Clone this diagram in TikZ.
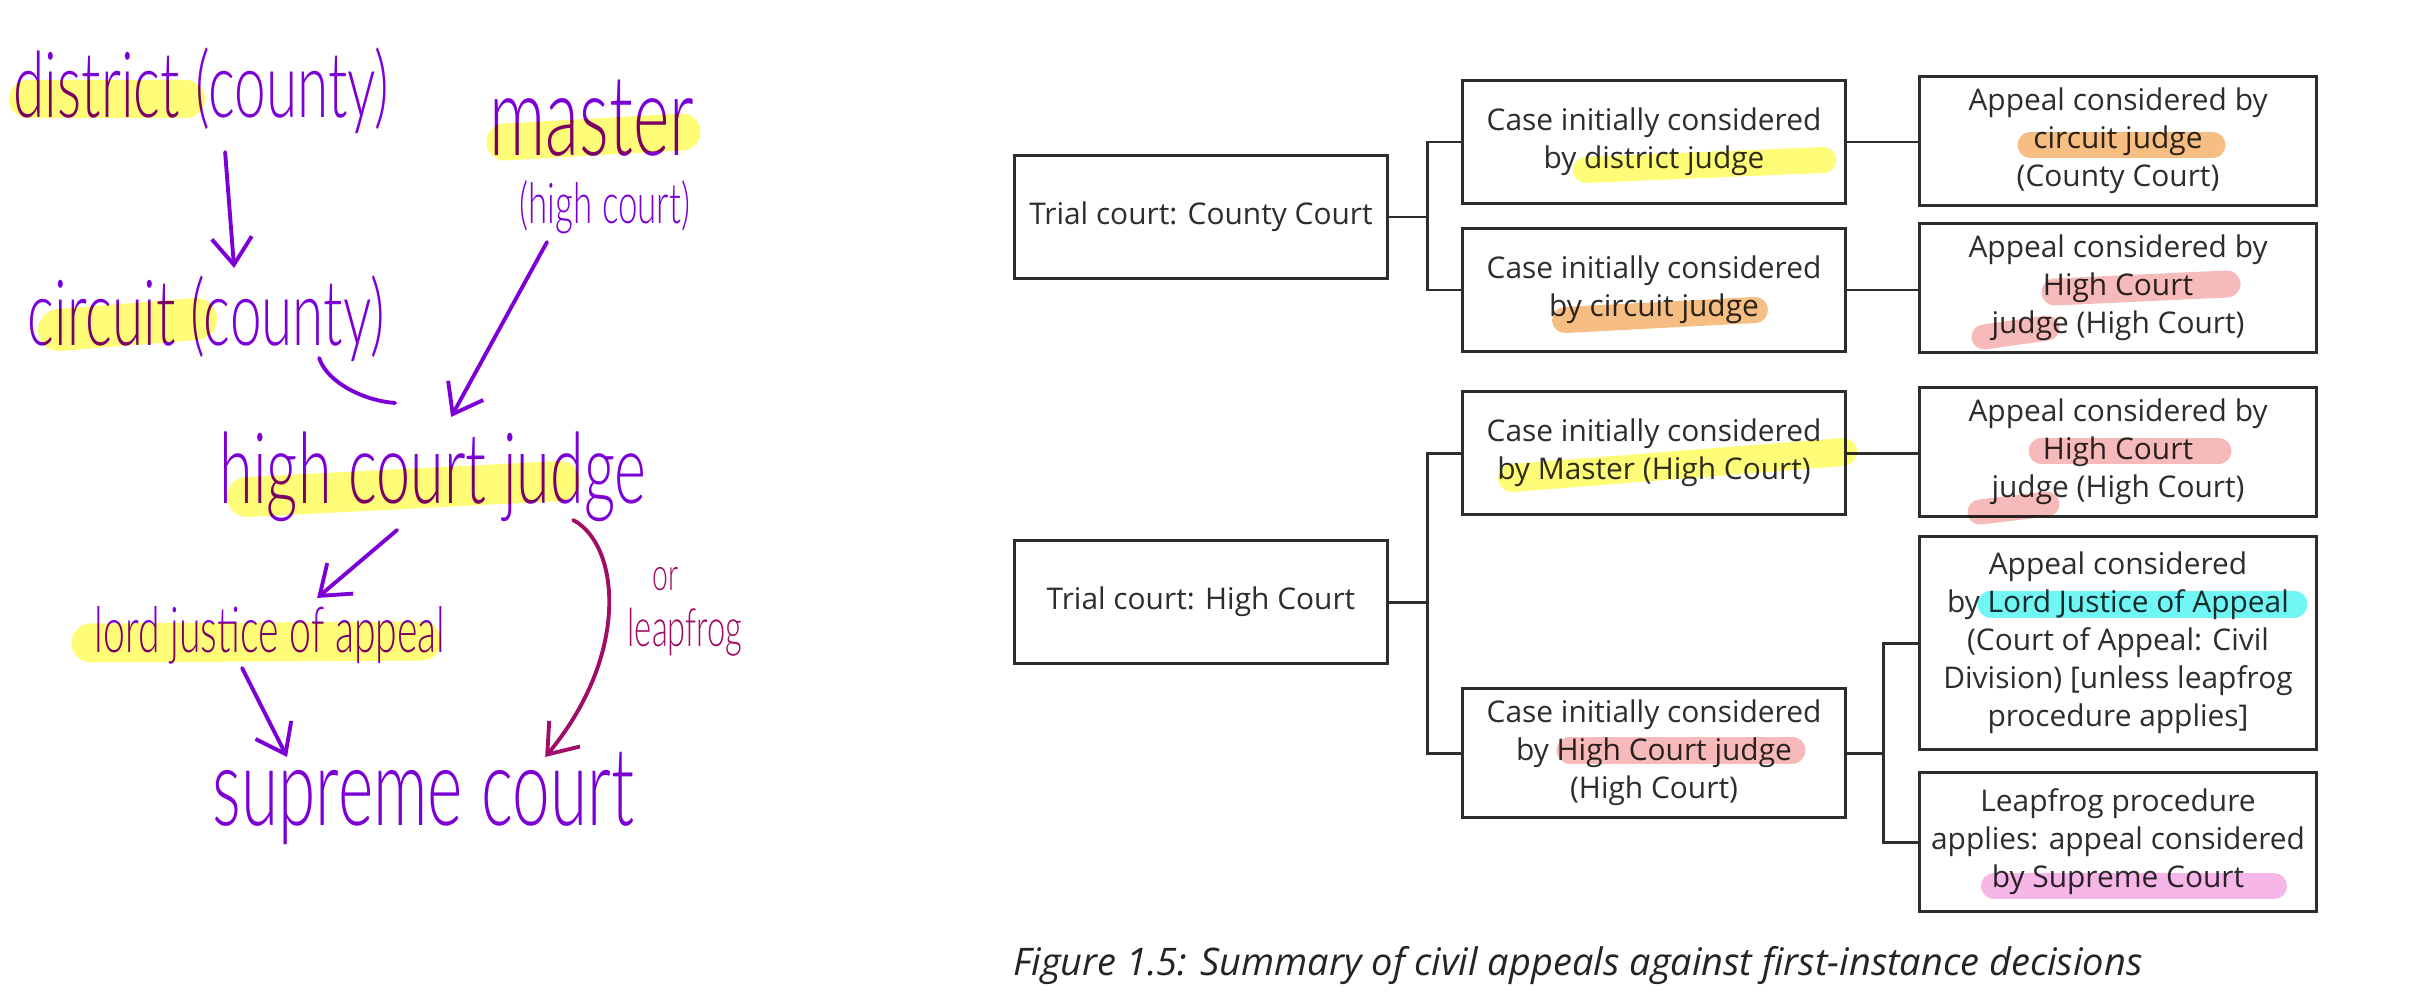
\documentclass[tikz,border=0pt]{standalone}
\usepackage{fontspec}
\setmainfont{Open Sans}
\IfFontExistsTF{Lato Light}
  {\newfontfamily\handfont[FakeStretch=0.62]{Lato Light}}
  {\newfontfamily\handfont[FakeStretch=0.62]{Lato}}
\usepackage{tikz}
\usetikzlibrary{arrows.meta}

\definecolor{inkpurple}{RGB}{124,0,214}
\definecolor{inkberry}{RGB}{160,12,102}
\definecolor{hlyellow}{RGB}{255,253,120}
\definecolor{hlorange}{RGB}{246,190,130}
\definecolor{hlpink}{RGB}{246,186,186}
\definecolor{hlcyan}{RGB}{112,246,244}
\definecolor{hlmagenta}{RGB}{246,182,232}
\definecolor{printgray}{RGB}{45,45,45}

\tikzset{
  hand/.style={inner sep=0pt, anchor=base west, text=inkpurple,
    font=\handfont\fontsize{#1}{#1}\selectfont},
  pen/.style={draw=inkpurple, line width=1.1pt, line cap=round, line join=round},
  barb/.style={-{Straight Barb[length=2.7mm, width=4mm]}},
  hl/.style={line width=#1, line cap=round, blend mode=multiply},
  trial/.style={draw=printgray, line width=0.85pt, minimum width=3.72cm,
    minimum height=1.22cm, align=center, text=printgray,
    font=\fontsize{8.5}{10.8}\selectfont},
  firstcase/.style={trial, minimum width=3.82cm},
  appeal/.style={trial, minimum width=3.97cm, minimum height=1.23cm},
  link/.style={draw=printgray, line width=0.85pt},
  caption/.style={anchor=west, text=printgray!80!black, font=\fontsize{10.8}{12}\selectfont\itshape}
}

\begin{document}
\begin{tikzpicture}[x=0.01cm, y=-0.01cm]
  \fill[white] (0,0) rectangle (2412,1000);
  \useasboundingbox (0,0) rectangle (2412,1000);

  % handwritten notes
  \node[hand=26pt] (district) at (13,117) {district (county)};
  \node[hand=32pt] (master) at (489,155) {master};
  \node[hand=16pt] (highct) at (519,223) {(high court)};
  \node[hand=26pt] (circuit) at (27,345) {circuit (county)};
  \node[hand=28pt] (hcj) at (219,503) {high court judge};
  \node[hand=18pt] (lja) at (94,652) {lord justice of appeal};
  \node[hand=31pt] (sc) at (212,825) {supreme court};
  \node[hand=13pt, text=inkberry] (orword) at (652,590) {or};
  \node[hand=15pt, text=inkberry] (leapword) at (627,646) {leapfrog};

  \draw[pen, barb] ([xshift=2.12cm, yshift=-0.35cm]district.base west)
    -- ([xshift=2.07cm, yshift=0.77cm]circuit.base west);
  \draw[pen, barb] ([xshift=0.28cm, yshift=-0.19cm]highct.base west)
    -- ([xshift=2.32cm, yshift=0.86cm]hcj.base west);
  \draw[pen] ([xshift=2.92cm, yshift=-0.13cm]circuit.base west)
    .. controls +(8,25) and +(-30,-2) .. ([xshift=1.76cm, yshift=1.0cm]hcj.base west);
  \draw[pen, barb] ([xshift=1.78cm, yshift=-0.27cm]hcj.base west)
    -- ([xshift=2.23cm, yshift=0.54cm]lja.base west);
  \draw[pen, barb] ([xshift=1.48cm, yshift=-0.16cm]lja.base west)
    -- ([xshift=0.75cm, yshift=0.68cm]sc.base west);
  \draw[pen, barb, draw=inkberry] ([xshift=3.54cm, yshift=-0.17cm]hcj.base west)
    .. controls +(47,25) and +(85,-102) .. ([xshift=3.33cm, yshift=0.68cm]sc.base west);

  % highlighter strokes on the notes
  \draw[hl=0.38cm, hlyellow] (28,99) -- (186,99);
  \draw[hl=0.37cm, hlyellow] (505,142) -- (682,132);
  \draw[hl=0.42cm, hlyellow] (59,330) -- (196,319);
  \draw[hl=0.40cm, hlyellow] (247,497) -- (560,481);
  \draw[hl=0.39cm, hlyellow] (91,643) -- (422,641);

  % printed chart
  \node[trial] (county) at (1201,217) {Trial court: County Court};
  \node[trial] (high) at (1201,602) {Trial court: High Court};
  \node[firstcase] (district-case) at (1654,142) {Case initially considered\\by district judge};
  \node[firstcase] (circuit-case) at (1654,290) {Case initially considered\\by circuit judge};
  \node[firstcase] (master-case) at (1654,453) {Case initially considered\\by Master (High Court)};
  \node[firstcase] (hcj-case) at (1654,753) {Case initially considered\\by High Court judge\\(High Court)};
  \node[appeal] (circuit-appeal) at (2118,141) {Appeal considered by\\circuit judge\\(County Court)};
  \node[appeal] (hc-appeal-a) at (2118,288) {Appeal considered by\\High Court\\judge (High Court)};
  \node[appeal] (hc-appeal-b) at (2118,452) {Appeal considered by\\High Court\\judge (High Court)};
  \node[appeal, minimum height=2.12cm] (lja-appeal) at (2118,643)
    {Appeal considered\\by Lord Justice of Appeal\\(Court of Appeal: Civil\\Division) [unless leapfrog\\procedure applies]};
  \node[appeal, minimum height=1.38cm] (leapfrog-appeal) at (2118,842)
    {Leapfrog procedure\\applies: appeal considered\\by Supreme Court};

  \draw[link] (county.east) -- ++(39,0) coordinate (county-fork);
  \draw[link] (district-case.west) -| (county-fork) |- (circuit-case.west);
  \draw[link] (high.east) -- ++(39,0) coordinate (high-fork);
  \draw[link] (master-case.west) -| (high-fork) |- (hcj-case.west);
  \draw[link] (district-case.east) -- (circuit-appeal.west |- district-case.east);
  \draw[link] (circuit-case.east) -- (hc-appeal-a.west |- circuit-case.east);
  \draw[link] (master-case.east) -- (hc-appeal-b.west |- master-case.east);
  \draw[link] (hcj-case.east) -- ++(37,0) coordinate (hcj-fork);
  \draw[link] (lja-appeal.west) -| (hcj-fork) |- (leapfrog-appeal.west);

  % highlighter strokes on the chart
  \draw[hl=0.26cm, hlyellow] (1586,170) -- (1823,160);
  \draw[hl=0.26cm, hlorange] (1565,320) -- (1755,310);
  \draw[hl=0.25cm, hlorange] (2030,145) -- (2213,145);
  \draw[hl=0.27cm, hlpink] (2055,292) -- (2227,284);
  \draw[hl=0.25cm, hlpink] (1984,337) -- (2047,328);
  \draw[hl=0.25cm, hlpink] (2041,451) -- (2219,451);
  \draw[hl=0.25cm, hlpink] (1980,512) -- (2047,504);
  \draw[hl=0.28cm, hlyellow] (1512,478) -- (1843,452);
  \draw[hl=0.27cm, hlpink] (1570,750) -- (1792,750);
  \draw[hl=0.27cm, hlcyan] (1991,604) -- (2294,604);
  \draw[hl=0.26cm, hlmagenta] (1994,886) -- (2274,886);

  \node[caption] (figcap) at (1001,966) {Figure 1.5: Summary of civil appeals against first-instance decisions};
\end{tikzpicture}
\end{document}
